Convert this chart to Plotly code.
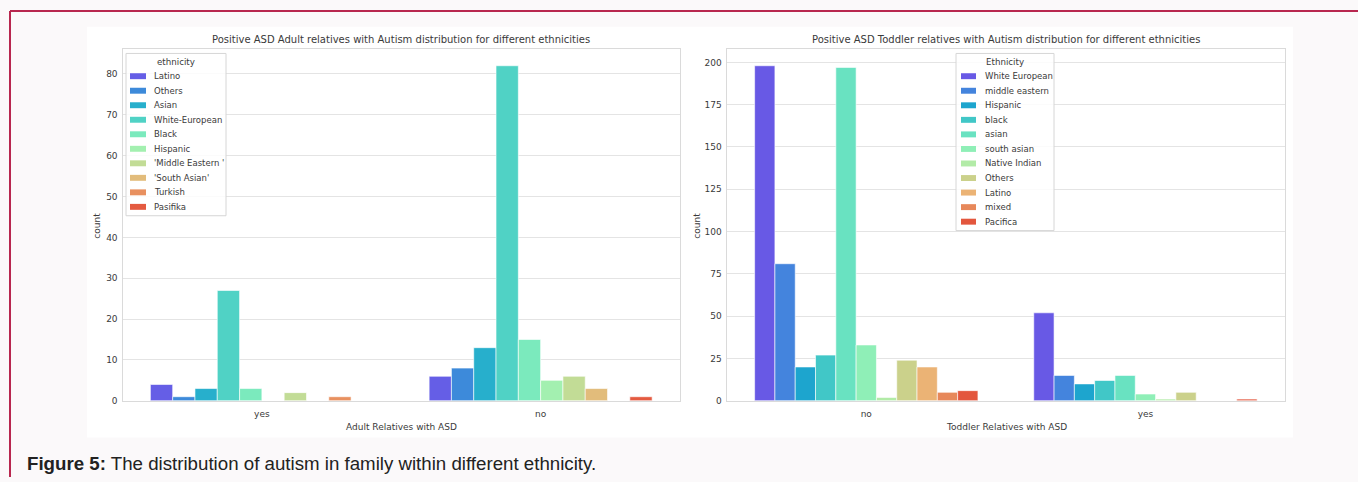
import colorsys
import math
import plotly.graph_objects as go

# ---- data -------------------------------------------------------------
adult_groups = ["yes", "no"]
adult_ethnicities = ["Latino", "Others", "Asian", "White-European", "Black",
                     "Hispanic", "'Middle Eastern '", "'South Asian'", "Turkish", "Pasifika"]
adult_yes = [4, 1, 3, 27, 3, None, 2, None, 1, None]
adult_no = [6, 8, 13, 82, 15, 5, 6, 3, None, 1]

toddler_groups = ["no", "yes"]
toddler_ethnicities = ["White European", "middle eastern", "Hispanic", "black", "asian",
                       "south asian", "Native Indian", "Others", "Latino", "mixed", "Pacifica"]
toddler_no = [198, 81, 20, 27, 197, 33, 2, 24, 20, 5, 6]
toddler_yes = [52, 15, 10, 12, 15, 4, 1, 5, None, None, 1]

adult_ticks = [0, 10, 20, 30, 40, 50, 60, 70, 80]
toddler_ticks = [0, 25, 50, 75, 100, 125, 150, 175, 200]

# ---- page geometry ------------------------------------------------------
W, H = 1358, 482


def fx(x):
    return x / W


def fy(y):
    return 1 - y / H


def peak(*series):
    return max(v for s in series for v in s if v is not None)


def rainbow(n, sat=0.75):
    """matplotlib 'rainbow' sampled like seaborn, then desaturated for bars."""
    out = []
    for i in range(n):
        t = (i + 1) / (n + 1)
        r = min(1, max(0, abs(2 * t - 0.5)))
        g = min(1, max(0, math.sin(t * math.pi)))
        b = min(1, max(0, math.cos(t * math.pi / 2)))
        h, l, s = colorsys.rgb_to_hls(r, g, b)
        r, g, b = colorsys.hls_to_rgb(h, l, s * sat)
        out.append("#%02x%02x%02x" % (round(r * 255), round(g * 255), round(b * 255)))
    return out


FONT = "DejaVu Sans"
TXT = "#3a3a3a"
GRID = "#e4e4e4"
FRAME = "#dadada"

fig = go.Figure()

adult_colors = rainbow(len(adult_ethnicities))
for i, name in enumerate(adult_ethnicities):
    fig.add_trace(go.Bar(
        x=adult_groups, y=[adult_yes[i], adult_no[i]], name=name,
        marker=dict(color=adult_colors[i], line=dict(color="white", width=0.6)),
        xaxis="x", yaxis="y", showlegend=False, hoverinfo="x+y+name"))

toddler_colors = rainbow(len(toddler_ethnicities))
for i, name in enumerate(toddler_ethnicities):
    fig.add_trace(go.Bar(
        x=toddler_groups, y=[toddler_no[i], toddler_yes[i]], name=name,
        marker=dict(color=toddler_colors[i], line=dict(color="white", width=0.6)),
        xaxis="x2", yaxis="y2", showlegend=False, hoverinfo="x+y+name"))

left_dom = [fx(122.5), fx(680)]
right_dom = [fx(726.7), fx(1285)]
y_dom = [fy(405), fy(49.5)]

axis_common = dict(showgrid=False, showline=True, linecolor=FRAME, linewidth=1.2,
                   mirror=True, ticks="", zeroline=False, ticklabelstandoff=4,
                   tickfont=dict(family=FONT, size=9, color=TXT))
yaxis_common = dict(showgrid=True, gridcolor=GRID, gridwidth=1.2, showline=True,
                    linecolor=FRAME, linewidth=1.2, mirror=True, ticks="",
                    zeroline=False, ticklabelstandoff=2,
                    tickfont=dict(family=FONT, size=9, color=TXT))

fig.update_layout(
    width=W, height=H,
    margin=dict(l=0, r=0, t=0, b=0),
    paper_bgcolor="#fbf9fa", plot_bgcolor="white",
    barmode="group", bargap=0.2, bargroupgap=0,
    xaxis=dict(domain=left_dom, anchor="y", categoryorder="array",
               categoryarray=adult_groups, **axis_common),
    yaxis=dict(domain=y_dom, anchor="x", range=[0, peak(adult_yes, adult_no) * 1.05],
               tickvals=adult_ticks, **yaxis_common),
    xaxis2=dict(domain=right_dom, anchor="y2", categoryorder="array",
                categoryarray=toddler_groups, **axis_common),
    yaxis2=dict(domain=y_dom, anchor="x2", range=[0, peak(toddler_no, toddler_yes) * 1.05],
                tickvals=toddler_ticks, **yaxis_common),
)

shapes = [
    # white figure canvas holding both panels
    dict(type="rect", xref="paper", yref="paper", x0=fx(87), x1=fx(1293),
         y0=fy(442), y1=fy(27), fillcolor="white", line=dict(width=0), layer="below"),
    # page frame lines
    dict(type="line", xref="paper", yref="paper", x0=fx(10), x1=1, y0=fy(11), y1=fy(11),
         line=dict(color="#b8274f", width=2)),
    dict(type="line", xref="paper", yref="paper", x0=fx(10), x1=fx(10), y0=0, y1=fy(11),
         line=dict(color="#b8274f", width=2)),
]
annotations = []


def text(x, y, s, size=9, anchor="center", color=TXT, family=FONT, angle=0):
    annotations.append(dict(xref="paper", yref="paper", x=fx(x), y=fy(y), text=s,
                            showarrow=False, xanchor=anchor, yanchor="middle",
                            textangle=angle,
                            font=dict(family=family, size=size, color=color)))


# titles and axis labels
text(401, 40, "Positive ASD Adult relatives with Autism distribution for different ethnicities", size=10)
text(1006, 40, "Positive ASD Toddler relatives with Autism distribution for different ethnicities", size=10)
text(401, 431, "Adult Relatives with ASD", size=9)
text(1006, 431, "Toddler Relatives with ASD", size=9)
text(97, 228, "count", size=9, angle=-90)
text(697, 228, "count", size=9, angle=-90)


def legend(x0, x1, y0, y1, title, names, colors, first, step, sw0, sw1, tx):
    shapes.append(dict(type="rect", xref="paper", yref="paper", x0=fx(x0), x1=fx(x1),
                       y0=fy(y1), y1=fy(y0), fillcolor="rgba(255,255,255,0.85)",
                       line=dict(color="#d6d6d6", width=1)))
    text((x0 + x1) / 2, y0 + 8.5, title, size=8.7)
    for i, (n, c) in enumerate(zip(names, colors)):
        yc = first + i * step
        shapes.append(dict(type="rect", xref="paper", yref="paper", x0=fx(sw0), x1=fx(sw1),
                           y0=fy(yc + 3), y1=fy(yc - 3), fillcolor=c, line=dict(width=0)))
        text(tx, yc, n, size=8.5, anchor="left")


legend(126, 226, 54, 218, "ethnicity", adult_ethnicities, adult_colors, 77, 14.67, 130, 146, 152)
legend(956, 1054, 54, 233, "Ethnicity", toddler_ethnicities, toddler_colors, 77, 14.7, 961, 976, 983)

# caption
annotations.append(dict(xref="paper", yref="paper", x=fx(25), y=fy(468),
                        xanchor="left", yanchor="middle", showarrow=False,
                        text="<b>Figure 5:</b> The distribution of autism in family within different ethnicity.",
                        font=dict(family="Liberation Sans", size=18.7, color="#222222")))

fig.update_layout(shapes=shapes, annotations=annotations)
fig.write_html("out.html")
